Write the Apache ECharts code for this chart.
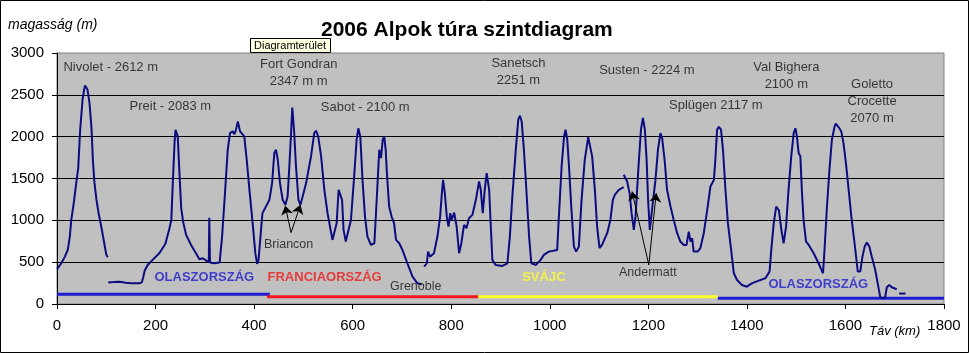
<!DOCTYPE html>
<html>
<head>
<meta charset="utf-8">
<script src="https://cdn.jsdelivr.net/npm/echarts/dist/echarts.min.js"></script>
<style>
    html, body { margin: 0; padding: 0; background: #fff; }
    #main { width: 969px; height: 353px; }
</style>
</head>
<body>
<div id="main"></div>
<script>
// profile segments [km, m], the line has gaps between them
var seg1 = [[0,415],[9,490],[16,566],[22,650],[26,806],[29,1005],[34,1205],[39,1445],[43,1620],[47,2083],[52,2450],[55,2560],[57,2612],[60,2600],[62,2560],[66,2400],[70,2100],[73,1700],[76,1450],[80,1250],[84,1100],[90,920],[97,690],[100,590],[103,560]];
var seg2 = [[104,258],[115,262],[127,267],[140,255],[150,247],[167,247],[172,258],[175,320],[178,400],[184,467],[194,527],[208,610],[220,720],[228,900],[232,1005],[235,1445],[238.5,1923],[240.5,2083],[242,2060],[245,2003],[248.5,1564],[252,1150],[256,980],[262,826],[272,706],[282,607],[289,535],[296,547],[303,518],[308,500],[309,1030],[310.5,495],[318,488],[330,495],[335,806],[340,1245],[346.5,1843],[351,2043],[356.5,2063],[360,2030],[363,2080],[367,2182],[371.5,2063],[375.5,2083],[380,2003],[385,1724],[390.5,1365],[397,966],[402.5,607],[406,480],[409,527],[414,886],[417,1086],[421,1105],[424,1165],[431,1245],[436.5,1445],[441,1804],[444.5,1843],[448,1724],[452.5,1445],[458,1245],[463.5,1185],[468,1284],[471.5,1644],[475,2043],[477.5,2347],[481,2083],[485,1644],[490,1245],[494,1185],[498.5,1284],[505.5,1445],[515.5,1764],[522,2043],[525.5,2071],[530,2003],[536,1764],[542.5,1365],[549,1086],[554,926],[559,766],[563,746],[567.5,966],[571.5,1365],[574.5,1380],[578.5,1245],[581.5,886],[586,746],[590,726],[596.5,1005],[603,1524],[608,1963],[611.5,2100],[615.5,2003],[620,1484],[625,1045],[630,806],[637,706],[644,726],[647,1045],[650.5,1445],[654,1843],[657.5,1744],[661,1963],[664,2003],[667,1843],[669.5,1564],[674,1165],[679,1045],[684,966],[688,766],[694.5,726],[701,646],[711,487],[721.5,327],[731.5,247],[740,236]];
var seg3 = [[745,446],[750.5,487],[753,626],[757,566],[765,607],[772,806],[777.5,1045],[781,1325],[783.5,1484],[787,1325],[791,1045],[794.5,926],[798,1086],[801,1005],[806,1093],[811,926],[816,607],[820.5,726],[826,946],[831,906],[836,1026],[843,1065],[850,1245],[856.5,1464],[860,1365],[864,1086],[868,1365],[872,1564],[877,1365],[880,966],[883.5,527],[890,467],[904,455],[914,487],[919,806],[924,1284],[931,1843],[936,2202],[939.5,2251],[943,2182],[947.5,1843],[952.5,1365],[958,806],[962.5,487],[971.5,467],[981.5,527],[988,587],[998,626],[1015,646],[1018.5,1045],[1024,1644],[1029,2003],[1032,2083],[1035.5,1963],[1039,1644],[1044,1125],[1049,686],[1053.5,626],[1059,686],[1064.5,1245],[1071,1724],[1078,1995],[1081.5,1995],[1086,1764],[1091.5,1365],[1096,926],[1101,667],[1106,706],[1116.5,846],[1123,1005],[1128,1245],[1132,1305],[1140,1365],[1150,1397]];
var seg4 = [[1150,1544],[1157,1464],[1162,1325],[1166,1086],[1170.5,886],[1174,1045],[1176,1245],[1180.5,1684],[1185,2083],[1189,2224],[1193,2083],[1196.5,1724],[1199.5,1245],[1203,886],[1205.5,866],[1209,1205],[1214.5,1484],[1219.5,1843],[1224.5,2043],[1228,1983],[1233,1724],[1238,1365],[1245,1165],[1251.5,1005],[1258.5,846],[1265,746],[1272,706],[1277.5,706],[1282,866],[1285.5,746],[1289,786],[1292,626],[1300,626],[1305.5,667],[1312.5,846],[1319.5,1125],[1326,1404],[1333,1484],[1336,1724],[1339.5,2083],[1343,2117],[1347.5,2083],[1351.5,1843],[1356.5,1365],[1361.5,966],[1368,646],[1373.5,367],[1380,287],[1390,227],[1400,207],[1410,247],[1424,279],[1437.5,307],[1446,387],[1449.5,646],[1454.5,966],[1459.5,1165],[1462.5,1185],[1465,1120],[1470,886],[1474.5,726],[1479.5,926],[1484.5,1365],[1490,1764],[1495,2043],[1498.5,2100],[1501.5,2003],[1505,1804],[1508.5,1764],[1511.5,1365],[1515,1005],[1520,746],[1525.5,706],[1535.5,607],[1545.5,487],[1554.5,367],[1557.5,646],[1562.5,1165],[1567.5,1604],[1572.5,1963],[1578,2122],[1580.5,2155],[1584.5,2170],[1587.5,2103],[1591.5,2063],[1596,1923],[1601,1684],[1606.5,1365],[1612,1045],[1618.5,726],[1625,387],[1630,387],[1634.5,566],[1639,686],[1643.5,734],[1648.5,686],[1653.5,566],[1660.5,407],[1665.5,247],[1670.5,87],[1675,68],[1680.5,80],[1684,200],[1689,227],[1694,200],[1704,176]];
var seg5 = [[1709,125],[1722,125]];

// countries along the bottom
var countryNames = ['OLASZORSZÁG', 'FRANCIAORSZÁG', 'SVÁJC', 'OLASZORSZÁG'];
var countryFrom = [0, 426, 855, 1341];
var countryTo = [432, 855, 1341, 1800];
var countryLevel = [118, 86, 86, 68];
var countryLabelX = [299, 543, 988, 1545];
var countryLabelY = [323, 323, 323, 236];

// passes
var peakNames = ['Nivolet - 2612 m', 'Preit - 2083 m', 'Fort Gondran\n2347 m m', 'Sabot - 2100 m', 'Sanetsch\n2251 m', 'Susten - 2224 m', 'Splügen 2117 m', 'Val Bighera\n2100 m', 'Goletto\nCrocette\n2070 m'];
var peakX = [109, 230, 490.5, 625.5, 936.5, 1197, 1337, 1480, 1654];
var peakY = [2825, 2358, 2757, 2354, 2771, 2789, 2370, 2725, 2421];

// towns with arrows
var townNames = ['Briancon', 'Grenoble', 'Andermatt'];
var townX = [470, 728, 1199];
var townY = [706, 207, 371];
var arrowFrom = [[475, 853], [475, 853], [1201, 467], [1201, 467]];
var arrowTo = [[463, 1175], [494, 1185], [1167, 1345], [1216, 1325]];

var font = 'Liberation Sans, Arial, sans-serif';
var countryColors = ['#1c1cd0', '#f01818', '#ffff30', '#1c1cd0'];

var dom = document.getElementById('main');
var myChart = echarts.init(dom);

var series = [];

countryNames.forEach(function (n, i) {
    series.push({
        type: 'line',
        data: [[countryFrom[i], countryLevel[i]], [countryTo[i], countryLevel[i]]],
        symbol: 'none',
        silent: true,
        z: 2,
        lineStyle: {color: countryColors[i], width: 3}
    });
});

[seg1, seg2, seg3, seg4, seg5].forEach(function (s, i) {
    var item = {
        type: 'line',
        data: s,
        symbol: 'none',
        silent: true,
        z: 3,
        lineStyle: {color: '#0c0c80', width: 2}
    };
    if (i === 0) {
        item.markLine = {
            silent: true,
            symbol: ['none', 'arrow'],
            symbolSize: 9,
            label: {show: false},
            lineStyle: {color: '#000', width: 1, type: 'solid'},
            data: arrowFrom.map(function (f, j) {
                return [{coord: f}, {coord: arrowTo[j]}];
            })
        };
    }
    series.push(item);
});

function textSeries(xs, ys, names, style) {
    return {
        type: 'scatter',
        silent: true,
        symbolSize: 1,
        itemStyle: {color: 'rgba(0,0,0,0)'},
        z: 5,
        data: xs.map(function (x, i) {
            var d = {value: [x, ys[i]], name: names[i]};
            if (style.colors) {
                d.label = {color: style.colors[i]};
            }
            return d;
        }),
        label: {
            show: true,
            position: 'inside',
            formatter: function (p) { return p.name; },
            fontFamily: font,
            fontSize: style.size,
            fontWeight: style.weight || 'normal',
            color: '#111',
            lineHeight: 17
        }
    };
}

series.push(textSeries(peakX, peakY, peakNames, {size: 13}));
series.push(textSeries(townX, townY, townNames, {size: 12.5}));
series.push(textSeries(countryLabelX, countryLabelY, countryNames, {size: 13, weight: 'bold', colors: countryColors}));

option = {
    animation: false,
    backgroundColor: '#fff',
    title: [
        {
            text: '2006 Alpok túra szintdiagram',
            left: 321, top: 20, padding: 0,
            textStyle: {fontFamily: font, fontSize: 21, fontWeight: 'bold', color: '#000'}
        },
        {
            text: 'magasság (m)',
            left: 8, top: 18, padding: 0,
            textStyle: {fontFamily: font, fontSize: 14, fontStyle: 'italic', fontWeight: 'normal', color: '#000'}
        },
        {
            text: 'Táv (km)',
            left: 869, top: 325, padding: 0,
            textStyle: {fontFamily: font, fontSize: 13, fontStyle: 'italic', fontWeight: 'normal', color: '#000'}
        }
    ],
    grid: {
        left: 57,
        right: 25,
        top: 53,
        bottom: 49,
        show: true,
        backgroundColor: '#c0c0c0',
        borderColor: '#808080',
        borderWidth: 1
    },
    xAxis: {
        type: 'value',
        min: 0,
        max: 1800,
        interval: 200,
        axisLine: {show: true, lineStyle: {color: '#000', width: 1}},
        axisTick: {show: true, length: 5, lineStyle: {color: '#000'}},
        axisLabel: {
            fontFamily: font, fontSize: 15, color: '#000', margin: 14,
            formatter: function (v) { return String(v); }
        },
        splitLine: {show: false}
    },
    yAxis: {
        type: 'value',
        min: 0,
        max: 3000,
        interval: 500,
        axisLine: {show: true, lineStyle: {color: '#000', width: 1}},
        axisTick: {show: true, length: 5, lineStyle: {color: '#000'}},
        axisLabel: {
            fontFamily: font, fontSize: 15, color: '#000', margin: 13,
            formatter: function (v) { return String(v); }
        },
        splitLine: {show: true, showMaxLine: false, lineStyle: {color: '#000', width: 1}}
    },
    graphic: [
        {
            type: 'rect',
            shape: {x: 0.5, y: 0.5, width: 968, height: 352},
            style: {fill: 'none', stroke: '#000', lineWidth: 1},
            silent: true
        },
        {
            type: 'group',
            left: 250,
            top: 38,
            children: [
                {
                    type: 'rect',
                    shape: {x: 0.5, y: 0.5, width: 80, height: 14},
                    style: {fill: '#ffffe1', stroke: '#000', lineWidth: 1}
                },
                {
                    type: 'text',
                    x: 4, y: 2,
                    style: {text: 'Diagramterület', font: '11px ' + font, fill: '#000'}
                }
            ]
        }
    ],
    series: series
};

if (option && typeof option === "object") {
    myChart.setOption(option, true);
}
</script>
</body>
</html>
